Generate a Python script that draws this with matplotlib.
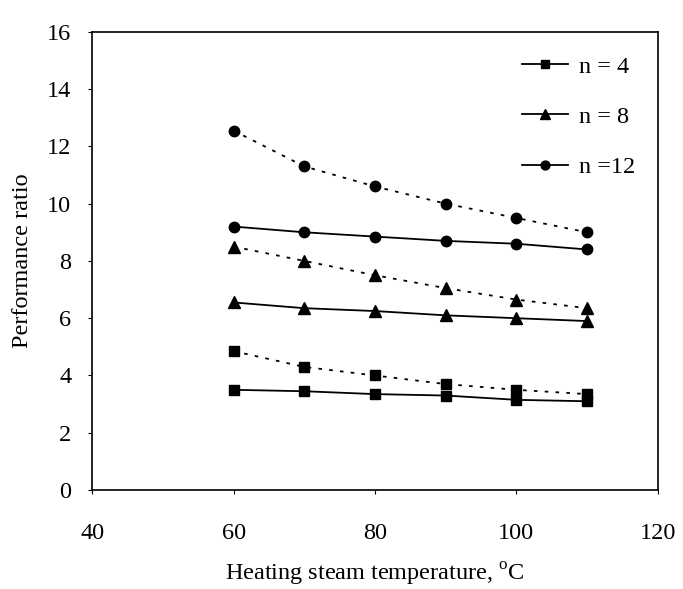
import matplotlib
matplotlib.use("Agg")
import matplotlib.pyplot as plt

plt.rcParams['font.family'] = ['Liberation Serif', 'DejaVu Serif']
plt.rcParams['mathtext.fontset'] = 'custom'
plt.rcParams['mathtext.rm'] = 'Liberation Serif'

temps = [60, 70, 80, 90, 100, 110]

# solid lines
pr_n4 = [3.5, 3.45, 3.35, 3.3, 3.15, 3.1]
pr_n8 = [6.55, 6.35, 6.25, 6.1, 6.0, 5.9]
pr_n12 = [9.2, 9.0, 8.85, 8.7, 8.6, 8.4]

# dotted lines
pr_n4_dot = [4.85, 4.3, 4.0, 3.7, 3.5, 3.35]
pr_n8_dot = [8.5, 8.0, 7.5, 7.05, 6.65, 6.35]
pr_n12_dot = [12.55, 11.3, 10.6, 10.0, 9.5, 9.0]

fig = plt.figure(figsize=(6.83, 5.89), dpi=100)
ax = fig.add_axes([0.135, 0.168, 0.828, 0.778])

dot = (0, (2, 4))
ax.plot(temps, pr_n4, color='black', lw=1.3, marker='s', ms=7, label='n = 4')
ax.plot(temps, pr_n8, color='black', lw=1.3, marker='^', ms=8, label='n = 8')
ax.plot(temps, pr_n12, color='black', lw=1.3, marker='o', ms=7.5, label='n =12')
ax.plot(temps, pr_n4_dot, color='black', lw=1.3, ls=dot, marker='s', ms=7)
ax.plot(temps, pr_n8_dot, color='black', lw=1.3, ls=dot, marker='^', ms=8)
ax.plot(temps, pr_n12_dot, color='black', lw=1.3, ls=dot, marker='o', ms=7.5)

ax.set_xlim(40, 120)
ax.set_ylim(0, 16)
ax.set_xticks([40, 60, 80, 100, 120])
ax.set_yticks(range(0, 17, 2))
ax.tick_params(labelsize=17.5, length=3, width=0.8)
ax.tick_params(axis='y', pad=12)
ax.tick_params(axis='x', pad=21)
for s in ax.spines.values():
    s.set_linewidth(1.2)

ax.set_xlabel(r'Heating steam temperature, $^{\mathrm{o}}$C', fontsize=17.5, labelpad=12)
ax.set_ylabel('Performance ratio', fontsize=17.5, labelpad=10)

ax.legend(loc='upper left', frameon=False, fontsize=17.5, handlelength=1.9,
          handletextpad=0.45, labelspacing=1.16, borderpad=0, borderaxespad=0,
          markerscale=0.85, bbox_to_anchor=(0.76, 0.948))

fig.savefig('out.png', dpi=100)
